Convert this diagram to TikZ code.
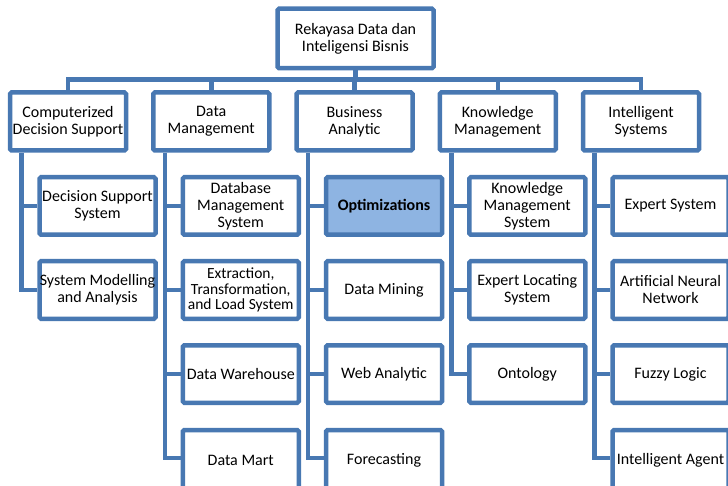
\documentclass[tikz,border=0pt]{standalone}
\usepackage{fontspec}
\setmainfont{Carlito}
\usetikzlibrary{positioning}
\definecolor{chartblue}{RGB}{72,120,178}
\definecolor{hiliteblue}{RGB}{142,180,226}
\newcommand{\chartfont}{\fontsize{16}{17}\selectfont}

\begin{document}
\begin{tikzpicture}[
      x=1pt, y=-1pt,
      box/.style={draw=chartblue, line width=4.5pt, rounded corners=1.5pt,
        fill=white, align=center, inner sep=0pt, font=\chartfont},
      topbox/.style={box, minimum width=156pt, minimum height=59.5pt},
      catbox/.style={box, minimum width=116pt, minimum height=58pt},
      itembox/.style={box, minimum width=116pt, minimum height=57.5pt},
      lastbox/.style={itembox, minimum height=60pt},
      hilite/.style={fill=hiliteblue, font=\chartfont\bfseries},
      link/.style={draw=chartblue, line width=4.5pt}
  ]
  \useasboundingbox (0,0) rectangle (728,486);
  \clip (0,0) rectangle (728,486);

  % root and bus
  \node[topbox] (root) at (355.5,38.5) {Rekayasa Data dan\\Inteligensi Bisnis};
  \coordinate (bus) at (0,79.5);

  % categories
  \node[catbox] (cds) at (68,121.5)    {Computerized\\Decision Support};
  \node[catbox] (dm)  at (211.25,121.5) {Data\\Management};
  \node[catbox] (ba)  at (354.5,121.5) {Business\\Analytic};
  \node[catbox] (km)  at (497.75,121.5) {Knowledge\\Management};
  \node[catbox] (is)  at (641,121.5)   {Intelligent\\Systems};

  % Computerized Decision Support
  \node[itembox] (dss) at (97.5,206) {Decision Support\\System};
  \node[itembox] (sma) at (97.5,290) {System Modelling\\and Analysis};

  % Data Management
  \node[itembox] (dbms) at (240.75,206) {Database\\Management\\System};
  \node[itembox, font=\fontsize{15.5}{15.5}\selectfont] (etl) at (240.75,290)
    {Extraction,\\Transformation,\\and Load System};
  \node[itembox] (dw)   at (240.75,374) {Data Warehouse};
  \node[lastbox] (dmart) at (240.75,460) {Data Mart};

  % Business Analytic
  \node[itembox, hilite] (opt) at (384,206) {Optimizations};
  \node[itembox] (mining) at (384,290) {Data Mining};
  \node[itembox] (web)    at (384,374) {Web Analytic};
  \node[lastbox] (fcast)  at (384,460) {Forecasting};

  % Knowledge Management
  \node[itembox] (kms)  at (527.25,206) {Knowledge\\Management\\System};
  \node[itembox] (els)  at (527.25,290) {Expert Locating\\System};
  \node[itembox] (onto) at (527.25,374) {Ontology};

  % Intelligent Systems
  \node[itembox] (es)    at (670.5,206) {Expert System};
  \node[itembox] (ann)   at (670.5,290) {Artificial Neural\\Network};
  \node[itembox] (fuzzy) at (670.5,374) {Fuzzy Logic};
  \node[lastbox] (agent) at (670.5,460) {Intelligent Agent};

  % top level links
  \draw[link] (root.south) -- (root.south |- bus);
  \draw[link] (cds.north) |- (bus -| is.north) -- (is.north);
  \draw[link] (dm.north) -- (dm.north |- bus);
  \draw[link] (ba.north) -- (ba.north |- bus);
  \draw[link] (km.north) -- (km.north |- bus);

  % spines
  \draw[link] ([xshift=-46.5pt]cds.south) |- (sma.west);
  \draw[link] ([xshift=-46.5pt]cds.south |- dss.west) -- (dss.west);
  \draw[link] ([xshift=-46.5pt]dm.south) |- ([yshift=2pt]dmart.west);
  \draw[link] ([xshift=-46.5pt]dm.south |- dbms.west) -- (dbms.west);
  \draw[link] ([xshift=-46.5pt]dm.south |- etl.west) -- (etl.west);
  \draw[link] ([xshift=-46.5pt]dm.south |- dw.west) -- (dw.west);
  \draw[link] ([xshift=-46.5pt]ba.south) |- ([yshift=2pt]fcast.west);
  \draw[link] ([xshift=-46.5pt]ba.south |- opt.west) -- (opt.west);
  \draw[link] ([xshift=-46.5pt]ba.south |- mining.west) -- (mining.west);
  \draw[link] ([xshift=-46.5pt]ba.south |- web.west) -- (web.west);
  \draw[link] ([xshift=-46.5pt]km.south) |- (onto.west);
  \draw[link] ([xshift=-46.5pt]km.south |- kms.west) -- (kms.west);
  \draw[link] ([xshift=-46.5pt]km.south |- els.west) -- (els.west);
  \draw[link] ([xshift=-46.5pt]is.south) |- ([yshift=2pt]agent.west);
  \draw[link] ([xshift=-46.5pt]is.south |- es.west) -- (es.west);
  \draw[link] ([xshift=-46.5pt]is.south |- ann.west) -- (ann.west);
  \draw[link] ([xshift=-46.5pt]is.south |- fuzzy.west) -- (fuzzy.west);

\end{tikzpicture}
\end{document}
